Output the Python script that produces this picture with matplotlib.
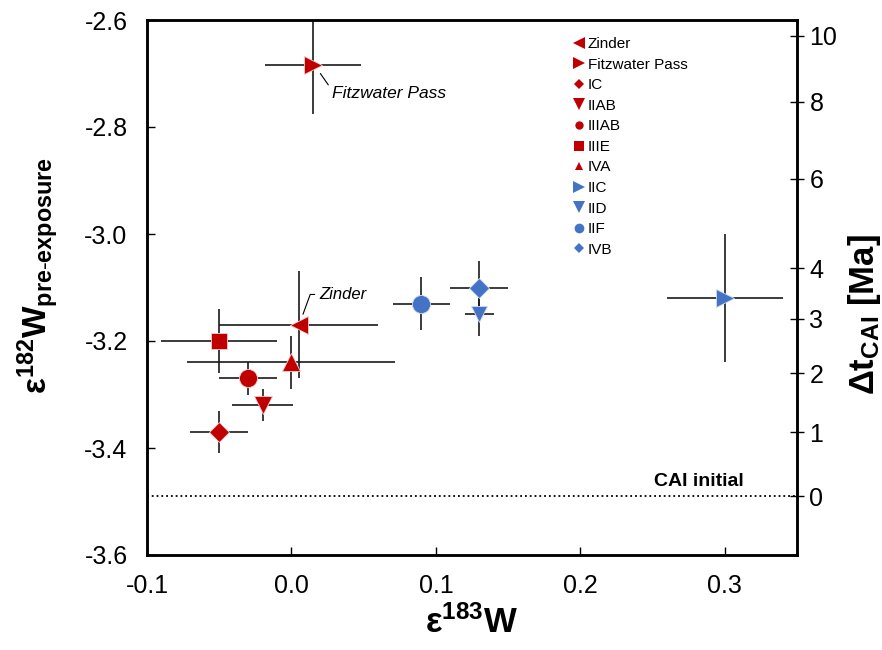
import matplotlib.pyplot as plt
import numpy as np
from matplotlib.lines import Line2D

plt.rcParams['font.family'] = ['Liberation Sans', 'DejaVu Sans']
plt.rcParams['mathtext.fontset'] = 'custom'
plt.rcParams['mathtext.rm'] = 'Liberation Sans'
plt.rcParams['mathtext.bf'] = 'Liberation Sans:bold'
plt.rcParams['mathtext.it'] = 'Liberation Sans:italic'

# samples: name, eps183W, eps182W, x error, y error
names = ['Zinder', 'Fitzwater Pass', 'IC', 'IIAB', 'IIIAB', 'IIIE', 'IVA',
         'IIC', 'IID', 'IIF', 'IVB']
x_val = [0.005, 0.015, -0.05, -0.02, -0.03, -0.05, 0.0, 0.30, 0.13, 0.09, 0.13]
y_val = [-3.17, -2.685, -3.37, -3.32, -3.27, -3.20, -3.24, -3.12, -3.15, -3.13, -3.10]
x_err = [0.055, 0.033, 0.02, 0.021, 0.02, 0.04, 0.072, 0.04, 0.01, 0.02, 0.02]
y_err = [0.10, 0.09, 0.04, 0.03, 0.03, 0.06, 0.05, 0.12, 0.04, 0.05, 0.05]
groups = ['red'] * 7 + ['blue'] * 4
markers = ['<', '>', 'D', 'v', 'o', 's', '^', '>', 'v', 'o', 'D']
sizes = [13, 13, 10, 13, 13, 11, 13, 13, 11, 13, 10]
leg_sizes = [9, 9, 5, 9, 6, 7, 6, 9, 9, 7, 5]

cai_initial = -3.49
eps_chondrite = -1.9
half_life = 8.9
dt_ticks = [0, 1, 2, 3, 4, 6, 8, 10]

colors = {'red': '#C00000', 'blue': '#4472C4'}

fig = plt.figure(figsize=(8.82, 6.5), dpi=100)
ax = fig.add_axes([147 / 882, 95 / 650, 650 / 882, 535 / 650])

for i in range(len(names)):
    c = colors[groups[i]]
    ax.errorbar(x_val[i], y_val[i], xerr=x_err[i], yerr=y_err[i], fmt='none',
                ecolor='#1a1a1a', elinewidth=1.2, capsize=0, zorder=2)
    ax.plot(x_val[i], y_val[i], ls='', marker=markers[i], ms=sizes[i], color=c,
            mec='#f0d0d0' if groups[i] == 'red' else '#d0dcf0', mew=0.6, zorder=3)

ax.axhline(cai_initial, color='k', ls=':', lw=1.3, zorder=1)
ax.text(0.282, cai_initial + 0.012, 'CAI initial', fontsize=14, fontweight='bold',
        ha='center', va='bottom')

ax.annotate('Zinder', xy=(0.008, -3.15), xytext=(0.019, -3.113), fontsize=12,
            style='italic', va='center', ha='left',
            arrowprops=dict(arrowstyle='-', color='k', lw=0.8, shrinkA=1, shrinkB=0,
                            connectionstyle='angle,angleA=0,angleB=70,rad=0'))
ax.annotate('Fitzwater Pass', xy=(0.02, -2.70), xytext=(0.028, -2.737), fontsize=12.5,
            style='italic', va='center', ha='left',
            arrowprops=dict(arrowstyle='-', color='k', lw=0.8, shrinkA=1, shrinkB=0,
                            connectionstyle='angle,angleA=0,angleB=-55,rad=0'))

ax.set_xlim(-0.1, 0.35)
ax.set_ylim(-3.6, -2.6)
ax.set_xticks([-0.1, 0.0, 0.1, 0.2, 0.3])
ax.set_xticklabels(['-0.1', '0.0', '0.1', '0.2', '0.3'])
ax.set_yticks([-3.6, -3.4, -3.2, -3.0, -2.8, -2.6])
ax.set_yticklabels(['-3.6', '-3.4', '-3.2', '-3.0', '-2.8', '-2.6'])
ax.tick_params(axis='both', direction='in', labelsize=18, length=6, width=1)
ax.tick_params(axis='y', pad=14)
ax.tick_params(axis='x', pad=14)
for s in ax.spines.values():
    s.set_linewidth(1.8)

ax.set_xlabel(r'$\mathbf{ε^{183}W}$', fontsize=25, labelpad=5)
ax.set_ylabel(r'$\mathbf{ε^{182}W_{pre\text{-}exposure}}$', fontsize=24, labelpad=17)
ax.yaxis.label.set_y(0.523)

# right axis: time after CAI formation
ax2 = ax.twinx()
ax2.set_ylim(ax.get_ylim())
lam = np.log(2) / half_life
dt_pos = [eps_chondrite - (eps_chondrite - cai_initial) * np.exp(-lam * t) for t in dt_ticks]
ax2.set_yticks(dt_pos)
ax2.set_yticklabels([str(t) for t in dt_ticks])
ax2.tick_params(axis='y', direction='inout', labelsize=18, length=10, width=1, pad=4)
for s in ax2.spines.values():
    s.set_linewidth(1.8)
ax2.set_ylabel(r'$\mathbf{Δt_{CAI}}$ [Ma]', fontsize=25, fontweight='bold', labelpad=6)
ax2.yaxis.label.set_y(0.449)

handles = []
for i in range(len(names)):
    handles.append(Line2D([], [], ls='', marker=markers[i], ms=leg_sizes[i],
                          color=colors[groups[i]], mew=0))
ax.legend(handles=handles, labels=names, loc='upper left', frameon=False,
          bbox_to_anchor=(574 / 882, 1 - 37 / 650), bbox_transform=fig.transFigure,
          fontsize=11, handlelength=0.7, handletextpad=0.2, labelspacing=0.43,
          borderpad=0, borderaxespad=0)

fig.savefig('out.png', dpi=100)
